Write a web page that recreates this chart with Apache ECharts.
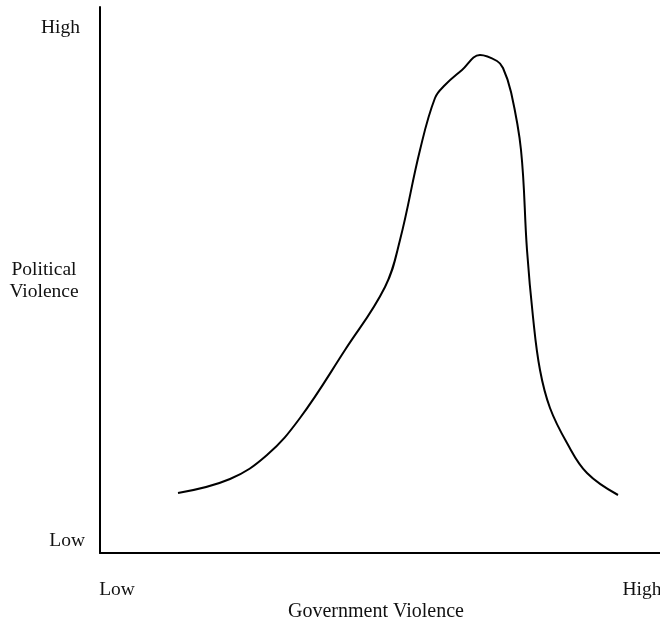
<!DOCTYPE html>
<html>
<head>
<meta charset="utf-8">
<script src="https://cdn.jsdelivr.net/npm/echarts@6/dist/echarts.min.js"></script>
<style>html,body{margin:0;padding:0;background:#fff}#c{width:660px;height:623px}</style>
</head>
<body>
<div id="c"></div>
<script>
// Government violence (x) vs political violence (y), arbitrary units
const govViolence = [78,130,167,200,245,285,300,320,335,345,362,380,397,403,411,421,427,433,440,450,467,487,518];
const polViolence = [60,74,98,135,203,266,313,403,455,468,483,498,492,485,461,403,303,236,183,145,110,80,58];
const xTickValues = [17, 542];
const xTickLabels = ['Low', 'High'];
const yTickValues = [12, 525];
const yTickLabels = ['Low', 'High'];
const xAxisTitle = 'Government Violence';
const yAxisTitle = 'Political\nViolence';

const font = '"Liberation Serif", "Times New Roman", serif';
const chart = echarts.init(document.getElementById('c'), null, {renderer: 'canvas'});
chart.setOption({
  animation: false,
  backgroundColor: '#fff',
  grid: {left: 100, right: 0, top: 7, bottom: 70, outerBoundsMode: 'none', containLabel: false},
  xAxis: {
    type: 'value', min: 0, max: 560,
    axisLine: {show: true, lineStyle: {color: '#000', width: 2}},
    axisTick: {show: false},
    splitLine: {show: false},
    axisLabel: {
      customValues: xTickValues,
      margin: 27,
      color: '#111', fontFamily: font, fontSize: 19.5, lineHeight: 19,
      formatter: v => xTickLabels[xTickValues.indexOf(v)]
    }
  },
  yAxis: {
    type: 'value', min: 0, max: 546,
    axisLine: {show: true, lineStyle: {color: '#000', width: 2}},
    axisTick: {show: false},
    splitLine: {show: false},
    axisLabel: {
      customValues: yTickValues,
      margin: 15,
      color: '#111', fontFamily: font, fontSize: 19.5,
      formatter: v => {
        const t = yTickLabels[yTickValues.indexOf(v)];
        return t === 'High' ? '{h|' + t + '}' : '{l|' + t + '}';
      },
      rich: {
        h: {fontFamily: font, fontSize: 19.5, color: '#111', padding: [0, 5, 0, 0]},
        l: {fontFamily: font, fontSize: 19.5, color: '#111'}
      }
    }
  },
  graphic: [
    {type: 'text', x: 44, y: 281, style: {text: yAxisTitle, fill: '#111', font: '19.5px ' + font, textAlign: 'center', textVerticalAlign: 'middle', lineHeight: 22}},
    {type: 'text', x: 376, y: 612, style: {text: xAxisTitle, fill: '#111', font: '20px ' + font, textAlign: 'center', textVerticalAlign: 'middle'}}
  ],
  series: [{
    type: 'line',
    data: govViolence.map((x, i) => [x, polViolence[i]]),
    smooth: 0.4,
    showSymbol: false,
    lineStyle: {color: '#000', width: 2}
  }]
});
</script>
</body>
</html>
